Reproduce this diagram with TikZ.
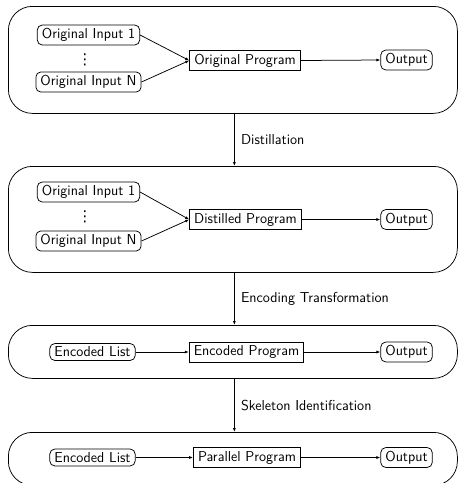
\documentclass[tikz,border=0pt]{standalone}
\usepackage{fontspec}
\newfontfamily\dotsfont{DejaVu Sans}
\usetikzlibrary{arrows.meta}
\begin{document}
\begin{tikzpicture}[x=1pt,y=-1pt,
  every node/.style={font=\fontsize{14.4}{17}\selectfont\sffamily},
  container/.style={draw, line width=0.75pt, rounded corners=24pt, minimum width=449pt, anchor=north west, inner sep=0pt},
  inbox/.style={draw, rounded corners=5pt, inner xsep=4.6pt, inner ysep=3.4pt, line width=0.75pt},
  progbox/.style={draw, inner xsep=4.6pt, inner ysep=3.4pt, line width=0.75pt},
  conn/.style={-{Latex[length=4pt,width=3pt]}, line width=0.75pt},
  dotsnode/.style={inner sep=0pt, font=\fontsize{15}{18}\selectfont\dotsfont},
  phase/.style={anchor=west, xshift=3pt}
]
\useasboundingbox (0,0) rectangle (458,483);
% containers
\node[container, minimum height=107pt] (c1) at (8,6) {};
\node[container, minimum height=106pt] (c2) at (8,166) {};
\node[container, minimum height=53pt] (c3) at (8,325) {};
\node[container, minimum height=53pt] (c4) at (8,432) {};
% container 1
\node[inbox] (a1) at (88.5,35) {Original Input 1};
\node[dotsnode] (ad) at (85,59.5) {⋮};
\node[inbox] (aN) at (88.5,82) {Original Input N};
\node[progbox] (ap) at (245,60.5) {Original Program};
\node[inbox] (ao) at (406.5,60) {Output};
\draw[conn] (a1.east) -- (ap.west);
\draw[conn] (aN.east) -- (ap.west);
\draw[conn] (ap.east) -- (ao.west);
% container 2
\node[inbox] (b1) at (88.5,192) {Original Input 1};
\node[dotsnode] (bd) at (85,217) {⋮};
\node[inbox] (bN) at (88.5,241) {Original Input N};
\node[progbox] (bp) at (245.5,219.5) {Distilled Program};
\node[inbox] (bo) at (406.5,219.5) {Output};
\draw[conn] (b1.east) -- (bp.west);
\draw[conn] (bN.east) -- (bp.west);
\draw[conn] (bp.east) -- (bo.west);
% container 3
\node[inbox] (e1) at (92.5,352) {Encoded List};
\node[progbox] (ep) at (246.5,352) {Encoded Program};
\node[inbox] (eo) at (406.5,352) {Output};
\draw[conn] (e1.east) -- (ep.west);
\draw[conn] (ep.east) -- (eo.west);
% container 4
\node[inbox] (p1) at (92.5,457.5) {Encoded List};
\node[progbox] (pp) at (247,457.5) {Parallel Program};
\node[inbox] (po) at (406.5,457.5) {Output};
\draw[conn] (p1.east) -- (pp.west);
\draw[conn] (pp.east) -- (po.west);
% phases
\draw[conn] ([xshift=1.5pt]c1.south) -- node[phase] (l1) {Distillation} ([xshift=1.5pt]c2.north);
\draw[conn] ([xshift=1.5pt]c2.south) -- node[phase] (l2) {Encoding Transformation} ([xshift=1.5pt]c3.north);
\draw[conn] ([xshift=1.5pt]c3.south) -- node[phase] (l3) {Skeleton Identification} ([xshift=1.5pt]c4.north);
\end{tikzpicture}
\end{document}
